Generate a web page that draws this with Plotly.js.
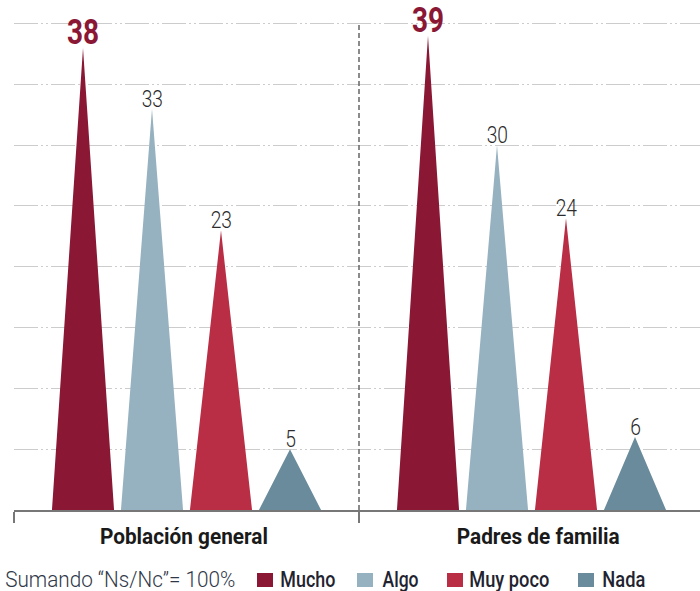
<!DOCTYPE html>
<html><head><meta charset="utf-8">
<script src="https://cdn.plot.ly/plotly-3.0.1.min.js"></script>
<style>html,body{margin:0;padding:0;background:#fff}#chart{width:700px;height:591px}</style>
</head><body><div id="chart"></div>
<script>
const groups = ["Población general", "Padres de familia"];
const seriesNames = ["Mucho", "Algo", "Muy poco", "Nada"];
const mucho = [38, 39];
const algo = [33, 30];
const muyPoco = [23, 24];
const nada = [5, 6];
const legendNote = "Sumando “Ns/Nc”= 100%";

const seriesValues = [mucho, algo, muyPoco, nada];
const colors = ["#8a1734", "#96b2c0", "#b92d45", "#6a8b9b"];
const FONT = "Roboto, 'Liberation Sans', sans-serif";
const slot = (g, s) => g * 5 + s;
const half = 0.45;

const traces = [];
seriesValues.forEach((vals, s) => {
  const xs = [], ys = [];
  vals.forEach((v, g) => {
    const c = slot(g, s);
    xs.push(c - half, c, c + half, null);
    ys.push(0, v, 0, null);
  });
  traces.push({
    type: "scatter", mode: "lines", x: xs, y: ys, fill: "toself",
    fillcolor: colors[s], line: {width: 0, color: colors[s]},
    hoverinfo: "skip", showlegend: false, name: seriesNames[s]
  });
});

const annotations = [];
const squeeze = [];   // per annotation: {w: exact px width} or {f: factor}

// value labels above each spike
seriesValues.forEach((vals, s) => {
  const bold = s === 0;
  vals.forEach((v, g) => {
    annotations.push({
      text: String(v), xref: "x", yref: "y", x: slot(g, s), y: v,
      xanchor: "center", yanchor: "bottom", yshift: bold ? -7 : -6, showarrow: false,
      font: bold ? {family: FONT, size: 35, weight: 700, color: colors[0]}
                 : {family: FONT, size: 24, weight: 300, color: "#2b2b2b"}
    });
    squeeze.push({f: 0.8});
  });
});

const groupCenters = [184, 538];
const groupWidths = [168, 163];
groups.forEach((g, i) => {
  annotations.push({
    text: g, xref: "paper", yref: "paper", x: 0, y: 0,
    xanchor: "center", yanchor: "middle", xshift: groupCenters[i] - 14, yshift: -26, showarrow: false,
    font: {family: FONT, size: 22, weight: 700, color: "#1a1a1a"}
  });
  squeeze.push({w: groupWidths[i]});
});
annotations.push({
  text: legendNote, xref: "paper", yref: "paper", x: 0, y: 0,
  xanchor: "center", yanchor: "middle", xshift: 120 - 14, yshift: -69, showarrow: false,
  font: {family: FONT, size: 22, weight: 300, color: "#2f3848"}
});
squeeze.push({w: 230});
const legSquares = [257, 357, 447, 578];
const legCenters = [307.5, 400, 509, 623.5];
const legWidths = [55, 36, 80, 43];
const shapes = [];
seriesNames.forEach((n, s) => {
  shapes.push({
    type: "rect", xref: "paper", yref: "paper", xsizemode: "pixel", ysizemode: "pixel",
    xanchor: 0, yanchor: 0, x0: legSquares[s] - 14, x1: legSquares[s] - 14 + 16,
    y0: -77, y1: -63, fillcolor: colors[s], line: {width: 0}
  });
  annotations.push({
    text: n, xref: "paper", yref: "paper", x: 0, y: 0,
    xanchor: "center", yanchor: "middle", xshift: legCenters[s] - 14, yshift: -69, showarrow: false,
    font: {family: FONT, size: 22, weight: 500, color: "#1f2430"}
  });
  squeeze.push({w: legWidths[s]});
});
shapes.push({
  type: "line", xref: "x", yref: "y", x0: 4, x1: 4, y0: 0, y1: 40,
  line: {color: "#666", width: 1.5, dash: "5px,3px"}
});

const layout = {
  width: 700, height: 591,
  margin: {l: 14, r: 0, t: 0, b: 81, pad: 0},
  paper_bgcolor: "#fff", plot_bgcolor: "#fff",
  showlegend: false,
  xaxis: {
    range: [-1, 8.942], showgrid: false, zeroline: false,
    showline: true, linecolor: "#777", linewidth: 2,
    tickmode: "array", tickvals: [-1, 4, 9], ticks: "outside", ticklen: 11,
    tickwidth: 2, tickcolor: "#777", showticklabels: false, fixedrange: true
  },
  yaxis: {
    range: [0, 41.94], showgrid: true, dtick: 5, tick0: 0,
    gridcolor: "#cccccc", gridwidth: 1, griddash: "24px,3px,2px,3px,2px,3px",
    zeroline: false, showline: false, showticklabels: false, ticks: "", fixedrange: true
  },
  annotations, shapes
};
Plotly.newPlot("chart", traces, layout, {displayModeBar: false, staticPlot: true}).then(gd => {
  // condensed look: squeeze glyphs horizontally (real text kept)
  gd.querySelectorAll("g.annotation").forEach(g => {
    const i = +g.getAttribute("data-index");
    const t = g.querySelector("text.annotation-text");
    const q = squeeze[i];
    if (!t || !q) return;
    const w = q.w || t.getComputedTextLength() * q.f;
    t.setAttribute("textLength", w.toFixed(1));
    t.setAttribute("lengthAdjust", "spacingAndGlyphs");
  });
});
</script></body></html>
